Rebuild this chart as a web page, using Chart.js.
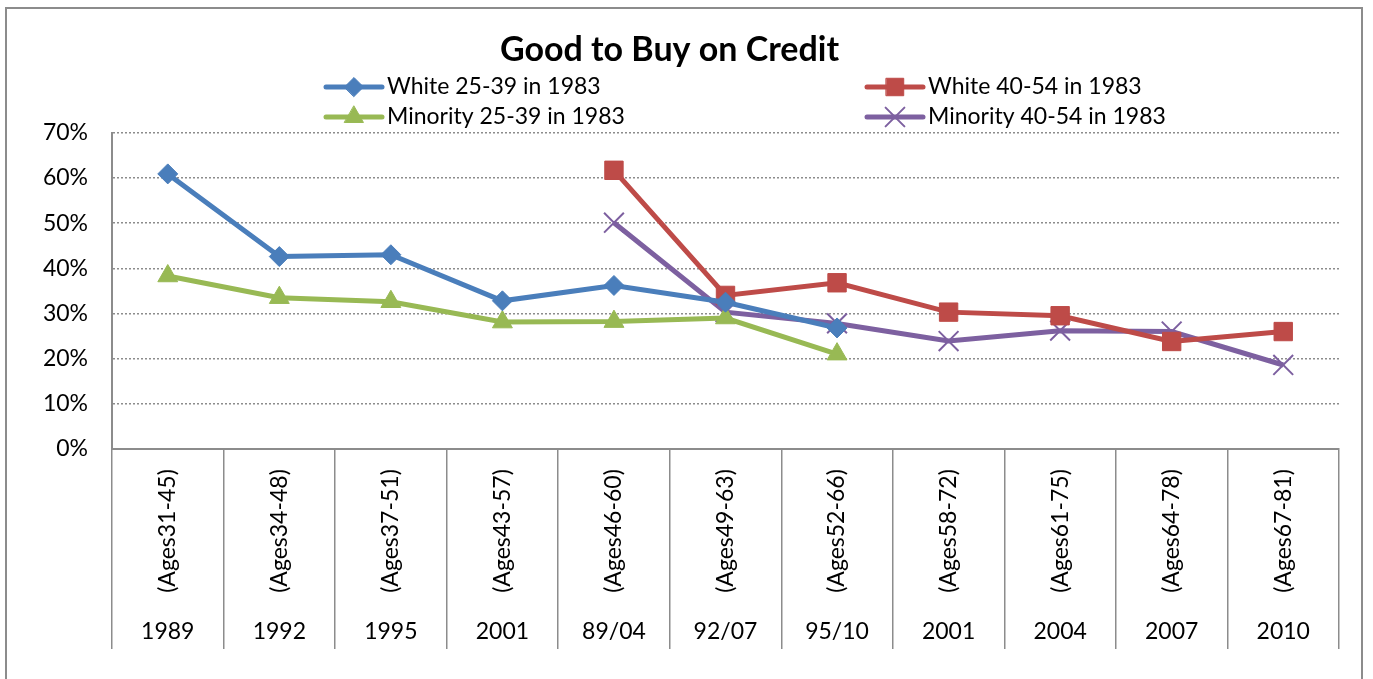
<!DOCTYPE html>
<html>
<head>
<meta charset="utf-8">
<script src="https://cdn.jsdelivr.net/npm/chart.js@4/dist/chart.umd.min.js"></script>
<style>
  html, body { margin: 0; padding: 0; background: #fff; overflow: hidden; }
  #wrap { position: relative; width: 1373px; height: 679px; }
  #frame { position: absolute; left: 5px; top: 7px; width: 1358px; height: 700px; border: 2px solid #8c8c8c; box-sizing: border-box; }
  canvas { position: absolute; left: 0; top: 0; }
</style>
</head>
<body>
<div id="wrap">
  <div id="frame"></div>
  <canvas id="chart" width="1373" height="679"></canvas>
</div>
<script>
// Category axis: survey year + age range of the cohort
const years = ['1989', '1992', '1995', '2001', '89/04', '92/07', '95/10', '2001', '2004', '2007', '2010'];
const ageRanges = ['(Ages31-45)', '(Ages34-48)', '(Ages37-51)', '(Ages43-57)', '(Ages46-60)', '(Ages49-63)',
                   '(Ages52-66)', '(Ages58-72)', '(Ages61-75)', '(Ages64-78)', '(Ages67-81)'];

// Series values, percent
const white2539    = [60.9, 42.6, 43.0, 32.8, 36.2, 32.5, 26.8, null, null, null, null];
const white4054    = [null, null, null, null, 61.7, 34.0, 36.8, 30.3, 29.5, 23.8, 26.0];
const minority2539 = [38.3, 33.5, 32.6, 28.1, 28.2, 29.0, 21.0, null, null, null, null];
const minority4054 = [null, null, null, null, 50.1, 30.3, 27.8, 23.9, 26.2, 26.0, 18.6];

const yTicks = [0, 10, 20, 30, 40, 50, 60, 70];

const FONT = "Lato, 'Open Sans', sans-serif";
const GRAY = '#8c8c8c';

Chart.defaults.font.family = FONT;
Chart.defaults.color = '#000';

function series(label, data, color, style, radius, pbw) {
    return {
        label: label,
        data: data,
        borderColor: color,
        backgroundColor: color,
        borderWidth: 5,
        pointStyle: style,
        pointRadius: radius,
        pointBorderWidth: pbw,
        pointBorderColor: color,
        pointBackgroundColor: color,
        tension: 0,
        spanGaps: false
    };
}

const datasets = [
    series('White 25-39 in 1983', white2539, '#4a7ebb', 'rectRot', 10, 1),
    series('White 40-54 in 1983', white4054, '#be4b48', 'rect', 13, 1),
    series('Minority 25-39 in 1983', minority2539, '#98b954', 'triangle', 11.5, 1),
    series('Minority 40-54 in 1983', minority4054, '#7d60a0', 'crossRot', 14, 2)
];

// two-column legend, drawn like the spreadsheet one
const legendPlugin = {
    id: 'twoColLegend',
    afterDraw(chart) {
        const ctx = chart.ctx;
        const cols = [326, 867];
        const rows = [87, 117];
        chart.data.datasets.forEach((ds, k) => {
            const x0 = cols[k % 2];
            const y = rows[Math.floor(k / 2)];
            ctx.save();
            ctx.strokeStyle = ds.borderColor;
            ctx.fillStyle = ds.borderColor;
            ctx.lineWidth = 5;
            ctx.lineCap = 'round';
            ctx.beginPath();
            ctx.moveTo(x0, y);
            ctx.lineTo(x0 + 56, y);
            ctx.stroke();
            ctx.lineWidth = ds.pointBorderWidth;
            Chart.helpers.drawPoint(ctx, {
                pointStyle: ds.pointStyle,
                radius: ds.pointRadius * 0.95,
                borderWidth: ds.pointBorderWidth
            }, x0 + 28, y);
            ctx.fillStyle = '#000';
            ctx.font = '23px ' + FONT;
            ctx.textAlign = 'left';
            ctx.textBaseline = 'middle';
            ctx.fillText(ds.label, x0 + 61, y);
            ctx.restore();
        });
    }
};

// two-level category labels under the axis
const categoryLabels = {
    id: 'categoryLabels',
    afterDraw(chart) {
        const ctx = chart.ctx;
        const xs = chart.scales.x;
        ctx.save();
        ctx.fillStyle = '#000';
        ctx.font = '23px ' + FONT;
        ctx.textAlign = 'center';
        ctx.textBaseline = 'middle';
        years.forEach((yr, i) => {
            const x = xs.getPixelForValue(i);
            ctx.save();
            ctx.translate(x, 531);
            ctx.rotate(-Math.PI / 2);
            ctx.fillText(ageRanges[i], 0, 0);
            ctx.restore();
            ctx.fillText(yr, x, 632);
        });
        ctx.restore();
    }
};

new Chart(document.getElementById('chart'), {
    type: 'line',
    data: { labels: years, datasets: datasets },
    options: {
        responsive: false,
        animation: false,
        layout: { padding: { top: 0, left: 0, right: 34, bottom: 30 } },
        plugins: {
            legend: { display: false },
            tooltip: { enabled: false },
            title: {
                display: true,
                text: 'Good to Buy on Credit',
                color: '#000',
                font: { size: 34, weight: 'bold', family: FONT, lineHeight: 1.2 },
                padding: { top: 30, bottom: 62 }
            }
        },
        scales: {
            x: {
                offset: true,
                ticks: { display: false },
                grid: {
                    offset: true,
                    drawOnChartArea: false,
                    drawTicks: true,
                    tickLength: 200,
                    color: GRAY,
                    lineWidth: 1.5
                },
                border: { display: true, color: GRAY, width: 2 },
                afterFit(scale) { scale.height = 200; }
            },
            y: {
                min: 0,
                max: 70,
                afterBuildTicks(scale) { scale.ticks = yTicks.map(v => ({ value: v })); },
                ticks: {
                    padding: 24,
                    font: { size: 23 },
                    color: '#000',
                    callback: v => v + '%'
                },
                grid: {
                    drawTicks: false,
                    color: GRAY,
                    lineWidth: 1.5
                },
                border: { display: true, color: GRAY, width: 2, dash: [2, 2] },
                afterFit(scale) { scale.width = 112; }
            }
        }
    },
    plugins: [legendPlugin, categoryLabels]
});
</script>
</body>
</html>
